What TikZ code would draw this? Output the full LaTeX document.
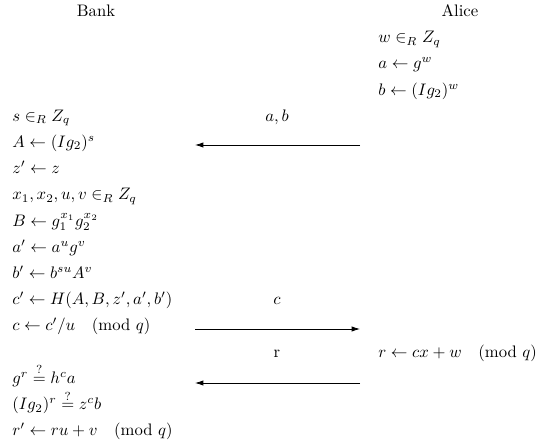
\documentclass[tikz,border=0pt]{standalone}
\usetikzlibrary{arrows.meta}

\tikzset{
  head/.style={anchor=base,inner sep=0pt},
  calc line/.style={anchor=base west,inner sep=0pt},
  msg label/.style={anchor=base,inner sep=0pt},
  msg/.style={-{Latex[length=5pt,width=3.2pt]},line width=0.5pt},
}

\begin{document}
\begin{tikzpicture}[x=0.6pt,y=-0.6pt]
			\useasboundingbox (0,0) rectangle (541,446);
			% parties
			\node[head] (bank) at (96,16.5) {Bank};
			\node[head] (alice) at (460,16.5) {Alice};
			% Alice's side
			\foreach \i/\t in {1/{$w \in_R Z_q$},2/{$a \leftarrow g^w$},
					3/{$b \leftarrow (Ig_2)^w$},13/{$r \leftarrow cx+w \pmod{q}$}}{
					\node[calc line] (alice-\i) at (378,16.5+26.2*\i) {\t};}
			% Bank's side
			\foreach \i/\t in {4/{$s \in_R Z_q$},5/{$A \leftarrow (Ig_2)^s$},
					6/{$z' \leftarrow z$},7/{$x_1,x_2,u,v \in_R Z_q$},
					8/{$B \leftarrow g_1^{x_1}g_2^{x_2}$},9/{$a' \leftarrow a^u g^v$},
					10/{$b' \leftarrow b^{su}A^v$},11/{$c' \leftarrow H(A,B,z',a',b')$},
					12/{$c \leftarrow c'/u \pmod{q}$},14/{$g^r \stackrel{?}{=} h^c a$},
					15/{$(Ig_2)^r \stackrel{?}{=} z^c b$},16/{$r' \leftarrow ru+v \pmod{q}$}}{
					\node[calc line] (bank-\i) at (12,16.5+26.2*\i) {\t};}
			% messages
			\node[msg label] (lab-ab) at (277,121.3) {$a,b$};
			\node[msg label] (lab-c) at (277,304.7) {$c$};
			\node[msg label] (lab-r) at (277,357.1) {r};
			\coordinate (ab-from) at (360,145);
			\coordinate (ab-to) at (195,145);
			\coordinate (c-from) at (195,329);
			\coordinate (c-to) at (360,329);
			\coordinate (r-from) at (360,383);
			\coordinate (r-to) at (195,383);
			\draw[msg] (ab-from) -- (ab-to);
			\draw[msg] (c-from) -- (c-to);
			\draw[msg] (r-from) -- (r-to);
		\end{tikzpicture}
\end{document}
